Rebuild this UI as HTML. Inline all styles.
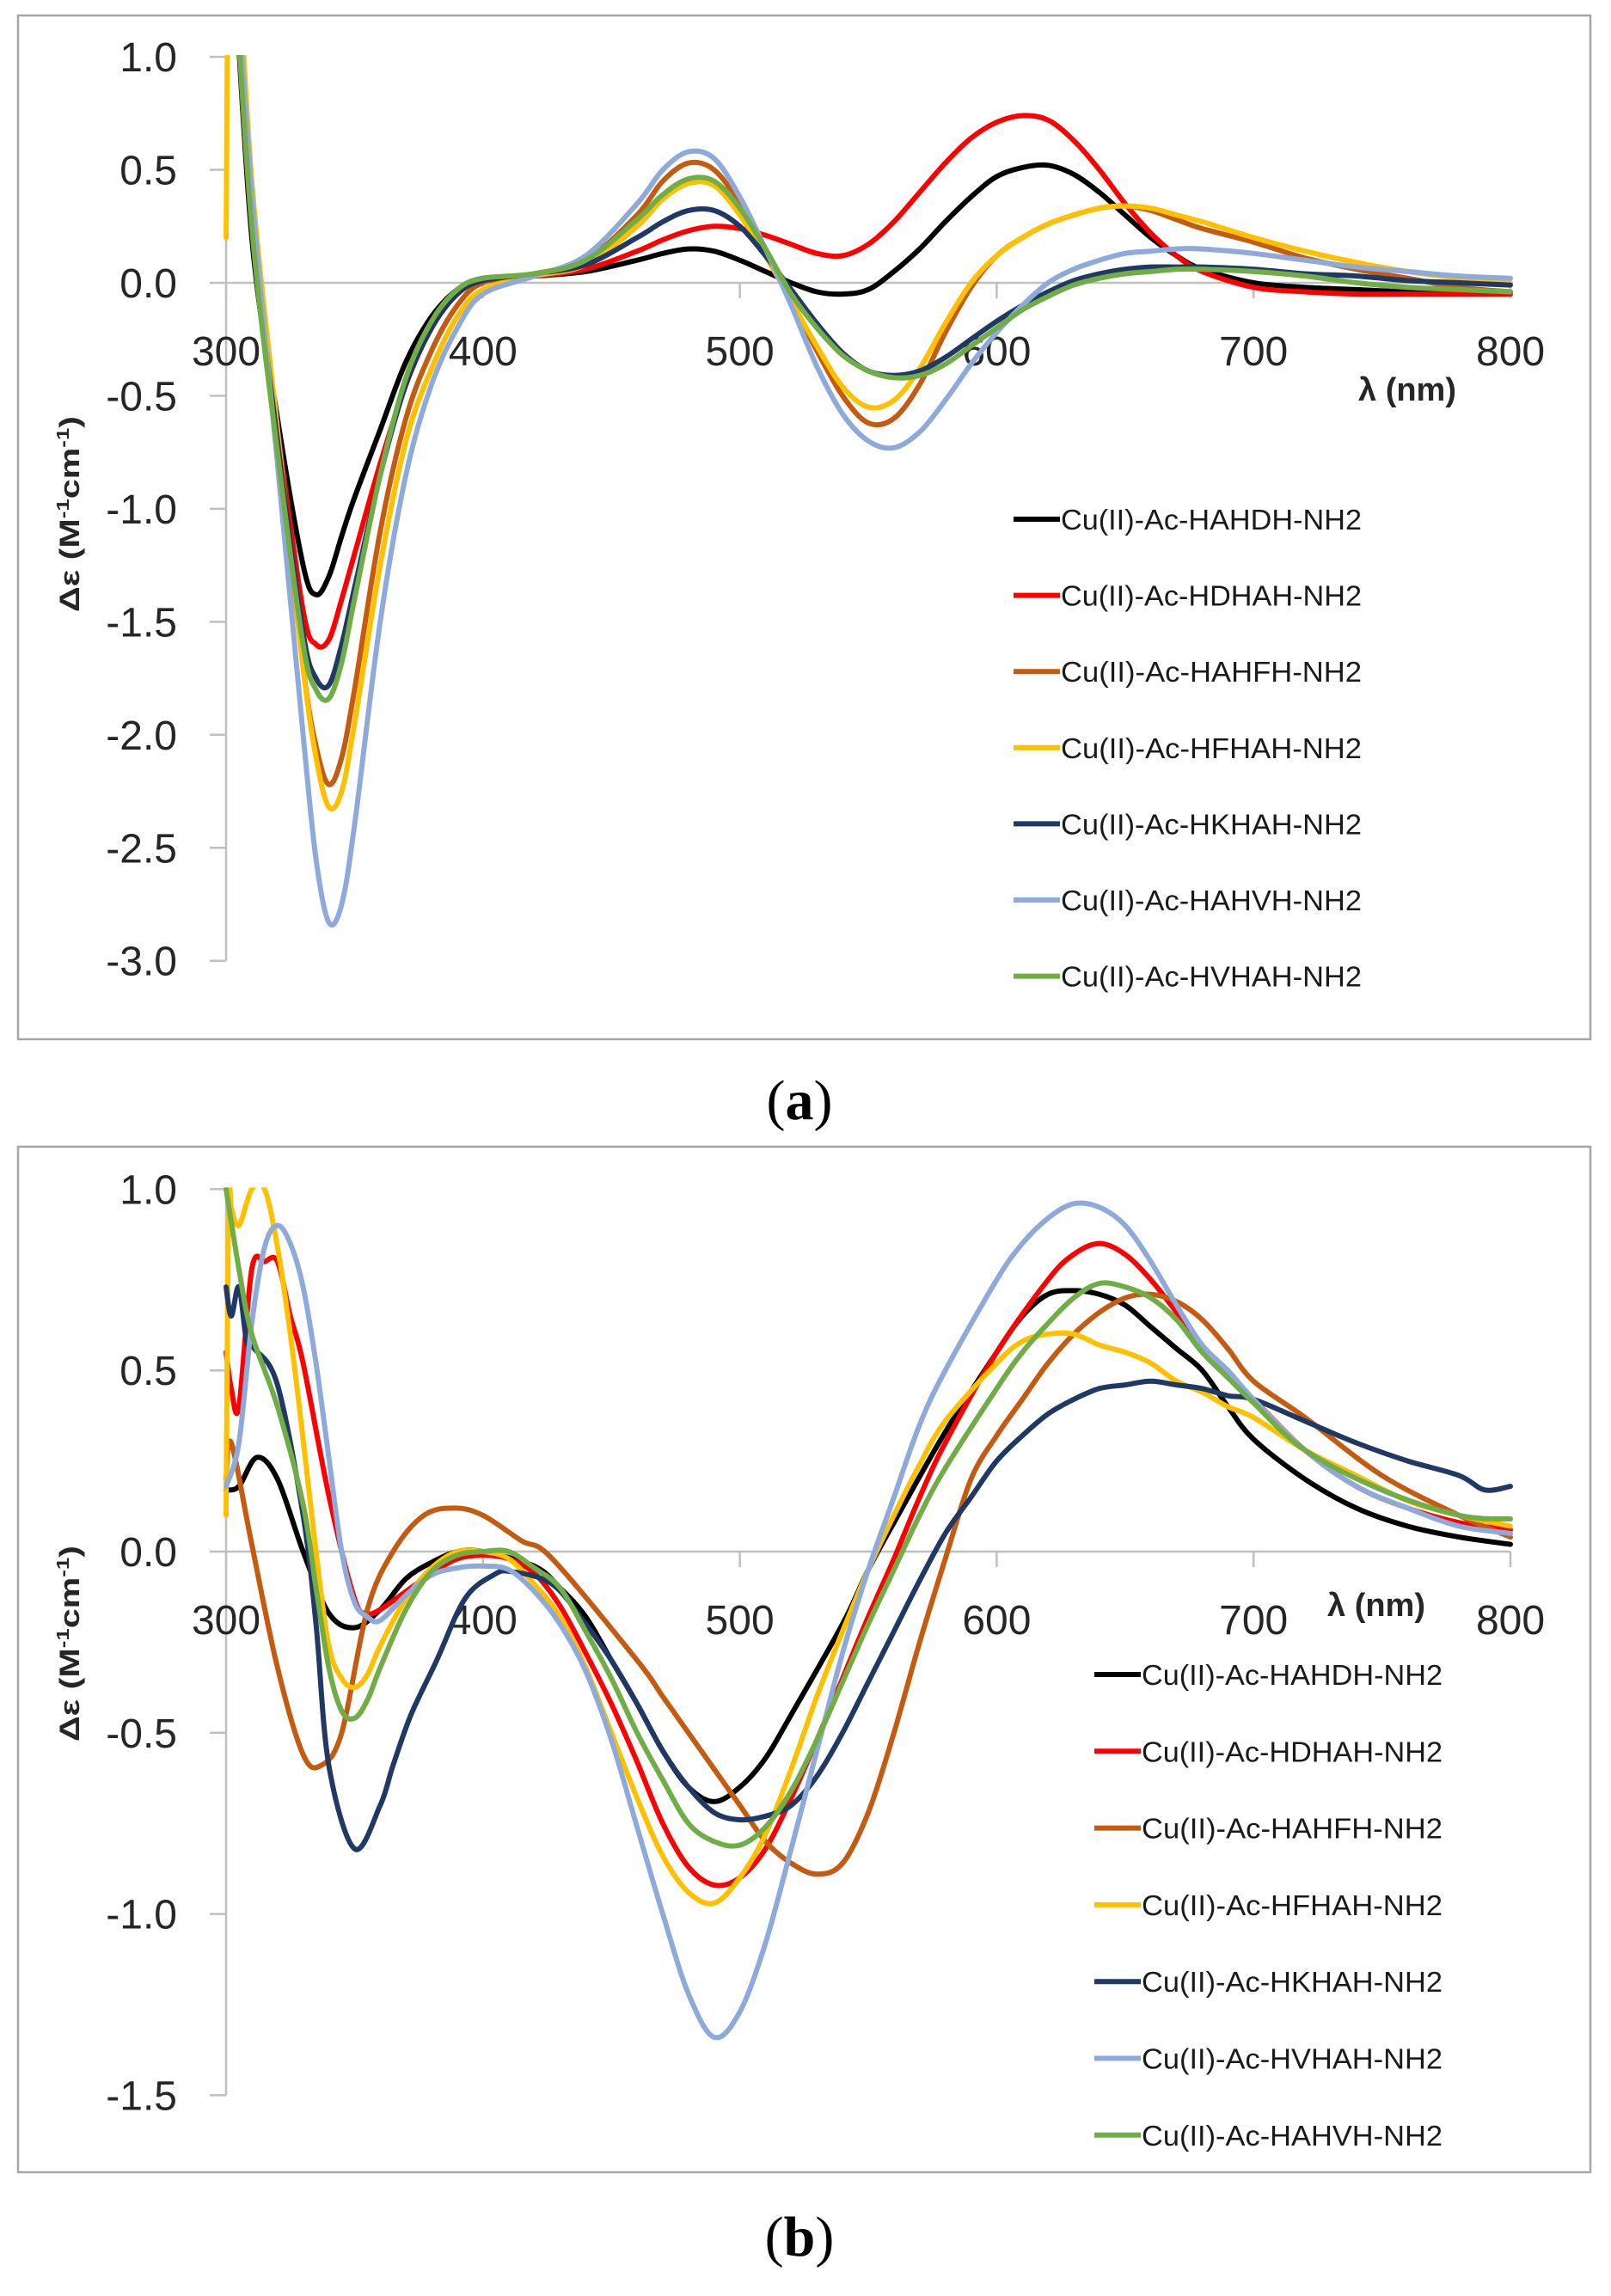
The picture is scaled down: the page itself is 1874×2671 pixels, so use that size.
<!DOCTYPE html>
<html><head><meta charset="utf-8"><style>
html,body{margin:0;padding:0;background:#fff;}
svg{display:block;}
</style></head><body>
<svg id="fig" width="1874" height="2671" viewBox="0 0 1874 2671" xmlns="http://www.w3.org/2000/svg" font-family="'Liberation Sans', sans-serif"></svg>
<script>
// ---------- Panel (a) data ----------
const a_black_x = [300,302,310,320,330,335,340,345,350,360,370,380,390,400,420,440,460,470,480,490,500,510,520,530,540,550,560,570,580,590,600,610,620,630,640,650,660,670,680,700,720,740,760,780,800];
const a_black_y = [1.8,1.6,0.2,-0.6,-1.25,-1.38,-1.3,-1.12,-0.95,-0.65,-0.35,-0.15,-0.03,0.02,0.03,0.05,0.1,0.13,0.15,0.14,0.1,0.05,0.0,-0.04,-0.05,-0.03,0.05,0.15,0.27,0.38,0.47,0.51,0.52,0.48,0.4,0.3,0.2,0.12,0.06,0.0,-0.02,-0.03,-0.04,-0.04,-0.04];
const a_red_x = a_black_x;
const a_red_y = [1.8,1.6,0.25,-0.65,-1.45,-1.6,-1.58,-1.4,-1.2,-0.8,-0.45,-0.2,-0.05,0.01,0.03,0.06,0.14,0.19,0.23,0.25,0.24,0.21,0.17,0.13,0.12,0.17,0.27,0.4,0.53,0.64,0.71,0.74,0.72,0.63,0.5,0.35,0.22,0.12,0.05,-0.02,-0.04,-0.05,-0.05,-0.05,-0.05];
const a_brown_x = a_black_x;
const a_brown_y = [1.8,1.6,0.3,-0.7,-1.7,-2.05,-2.22,-2.1,-1.8,-1.1,-0.6,-0.3,-0.1,0.0,0.04,0.1,0.3,0.45,0.53,0.5,0.35,0.15,-0.08,-0.3,-0.5,-0.62,-0.6,-0.45,-0.22,-0.02,0.12,0.2,0.26,0.3,0.33,0.34,0.32,0.28,0.24,0.18,0.11,0.06,0.02,-0.02,-0.04];
const a_yellow_x = a_black_x;
const a_yellow_y = [0.2,1.8,0.45,-0.65,-1.7,-2.1,-2.32,-2.25,-1.95,-1.25,-0.7,-0.38,-0.15,-0.03,0.03,0.08,0.25,0.37,0.44,0.43,0.3,0.12,-0.08,-0.28,-0.46,-0.55,-0.52,-0.38,-0.18,0.0,0.12,0.2,0.26,0.3,0.33,0.34,0.33,0.3,0.27,0.2,0.14,0.09,0.05,0.02,0.0];
const a_navy_x = a_black_x;
const a_navy_y = [1.8,1.6,0.3,-0.7,-1.55,-1.75,-1.78,-1.6,-1.35,-0.85,-0.45,-0.2,-0.05,0.01,0.04,0.08,0.2,0.27,0.32,0.32,0.25,0.12,-0.03,-0.18,-0.31,-0.39,-0.41,-0.39,-0.33,-0.25,-0.17,-0.1,-0.04,0.01,0.04,0.06,0.07,0.07,0.07,0.06,0.04,0.03,0.01,0.0,-0.01];
const a_lblue_x = a_black_x;
const a_lblue_y = [1.8,1.7,0.4,-0.8,-2.0,-2.55,-2.83,-2.75,-2.4,-1.5,-0.85,-0.45,-0.2,-0.05,0.03,0.12,0.35,0.5,0.58,0.55,0.38,0.15,-0.1,-0.37,-0.58,-0.7,-0.73,-0.66,-0.52,-0.36,-0.22,-0.1,0.0,0.06,0.1,0.13,0.14,0.15,0.15,0.13,0.1,0.07,0.05,0.03,0.02];
const a_green_x = a_black_x;
const a_green_y = [1.8,1.6,0.25,-0.75,-1.6,-1.8,-1.84,-1.68,-1.4,-0.85,-0.42,-0.17,-0.03,0.02,0.04,0.1,0.28,0.39,0.46,0.45,0.33,0.15,-0.05,-0.2,-0.32,-0.39,-0.42,-0.41,-0.36,-0.28,-0.2,-0.12,-0.06,-0.01,0.02,0.04,0.05,0.06,0.06,0.05,0.03,0.0,-0.02,-0.03,-0.04];
const a_labels = ["Cu(II)-Ac-HAHDH-NH2","Cu(II)-Ac-HDHAH-NH2","Cu(II)-Ac-HAHFH-NH2","Cu(II)-Ac-HFHAH-NH2","Cu(II)-Ac-HKHAH-NH2","Cu(II)-Ac-HAHVH-NH2","Cu(II)-Ac-HVHAH-NH2"];
const a_yticks = [1.0,0.5,0.0,-0.5,-1.0,-1.5,-2.0,-2.5,-3.0];
const xticks = [300,400,500,600,700,800];

// ---------- Panel (b) data ----------
const b_black_x = [300,305,312,320,330,340,350,360,370,380,390,400,420,430,440,450,460,470,480,490,500,510,520,540,550,560,580,600,610,620,630,640,650,660,670,680,690,700,720,740,760,780,800];
const b_black_y = [0.17,0.18,0.26,0.2,0.0,-0.17,-0.21,-0.16,-0.075,-0.03,0.0,0.0,-0.04,-0.1,-0.18,-0.3,-0.42,-0.55,-0.65,-0.69,-0.65,-0.57,-0.45,-0.2,-0.05,0.08,0.33,0.55,0.65,0.71,0.72,0.71,0.68,0.62,0.56,0.5,0.4,0.31,0.2,0.12,0.07,0.04,0.02];
const b_red_x = [300,302,305,310,315,320,325,330,340,350,355,360,370,380,390,400,410,420,430,440,450,460,470,480,490,500,510,520,530,540,550,560,570,580,600,620,630,640,650,660,670,680,690,700,720,740,760,780,800];
const b_red_y = [0.55,0.45,0.4,0.78,0.8,0.8,0.65,0.52,0.155,-0.13,-0.17,-0.16,-0.11,-0.06,-0.02,-0.01,-0.02,-0.06,-0.15,-0.28,-0.42,-0.58,-0.75,-0.87,-0.92,-0.9,-0.82,-0.68,-0.52,-0.35,-0.18,-0.02,0.15,0.3,0.55,0.75,0.82,0.85,0.82,0.75,0.66,0.56,0.48,0.42,0.28,0.18,0.12,0.08,0.06];
const b_brown_x = [300,302,310,320,330,337,345,355,365,377,389,400,415,427,460,470,480,490,500,510,520,530,540,550,560,570,580,590,600,610,620,630,640,650,660,670,680,690,700,720,750,780,800];
const b_brown_y = [0.2,0.3,0.02,-0.32,-0.56,-0.59,-0.5,-0.16,0.0,0.1,0.12,0.1,0.03,-0.02,-0.3,-0.4,-0.5,-0.6,-0.7,-0.8,-0.86,-0.89,-0.86,-0.72,-0.5,-0.25,-0.02,0.2,0.32,0.42,0.52,0.6,0.66,0.7,0.71,0.69,0.64,0.56,0.47,0.37,0.21,0.1,0.04];
const b_yellow_x = [300,301,302,305,310,315,320,325,330,335,340,345,350,355,360,370,380,390,400,410,420,430,440,450,460,470,480,490,500,510,520,530,540,550,560,570,580,600,610,620,630,640,650,660,670,680,690,700,720,740,760,780,800];
const b_yellow_y = [0.1,1.0,0.95,0.9,1.0,1.0,0.84,0.6,0.31,0.0,-0.26,-0.35,-0.375,-0.34,-0.26,-0.13,-0.045,0.0,0.0,-0.02,-0.09,-0.18,-0.32,-0.5,-0.68,-0.84,-0.94,-0.97,-0.9,-0.78,-0.6,-0.4,-0.22,-0.05,0.1,0.24,0.36,0.52,0.58,0.6,0.6,0.57,0.55,0.52,0.47,0.44,0.4,0.37,0.28,0.21,0.14,0.1,0.07];
const b_navy_x = [300,302,305,308,311,320,330,335,340,350,360,365,372,382,393,404,411,427,440,450,460,470,480,490,500,510,520,530,540,550,560,570,580,590,600,610,620,630,640,650,660,670,680,690,700,720,740,760,780,790,800];
const b_navy_y = [0.73,0.65,0.73,0.58,0.56,0.46,0.1,-0.2,-0.59,-0.82,-0.7,-0.59,-0.45,-0.3,-0.13,-0.065,-0.055,-0.09,-0.2,-0.3,-0.42,-0.55,-0.65,-0.72,-0.74,-0.73,-0.7,-0.62,-0.5,-0.36,-0.22,-0.08,0.05,0.15,0.25,0.32,0.38,0.42,0.45,0.46,0.47,0.46,0.45,0.43,0.42,0.36,0.3,0.25,0.21,0.17,0.18];
const b_lblue_x = [300,305,310,315,320,325,330,335,340,345,350,355,360,370,380,390,400,410,420,430,440,450,460,470,480,490,500,510,520,530,540,550,560,570,580,600,610,620,630,640,650,660,670,680,690,700,720,740,760,780,800];
const b_lblue_y = [0.18,0.3,0.63,0.84,0.9,0.85,0.73,0.52,0.26,0.0,-0.14,-0.18,-0.19,-0.12,-0.065,-0.045,-0.04,-0.05,-0.11,-0.2,-0.33,-0.52,-0.76,-1.0,-1.22,-1.34,-1.27,-1.08,-0.82,-0.55,-0.28,-0.05,0.15,0.35,0.5,0.75,0.85,0.92,0.96,0.95,0.9,0.8,0.68,0.57,0.5,0.42,0.28,0.18,0.12,0.07,0.05];
const b_green_x = [300,305,310,320,330,335,340,345,350,355,360,370,380,390,400,410,420,430,440,450,460,470,480,490,500,510,520,530,540,550,560,570,580,600,610,620,630,640,650,660,670,680,690,700,720,750,780,800];
const b_green_y = [1.0,0.78,0.6,0.4,0.13,-0.1,-0.32,-0.44,-0.46,-0.41,-0.32,-0.16,-0.055,-0.01,0.0,0.0,-0.045,-0.1,-0.22,-0.35,-0.5,-0.63,-0.75,-0.8,-0.81,-0.76,-0.66,-0.52,-0.36,-0.2,-0.05,0.1,0.23,0.45,0.55,0.63,0.7,0.74,0.73,0.7,0.64,0.55,0.48,0.41,0.28,0.17,0.1,0.09];
const b_labels = ["Cu(II)-Ac-HAHDH-NH2","Cu(II)-Ac-HDHAH-NH2","Cu(II)-Ac-HAHFH-NH2","Cu(II)-Ac-HFHAH-NH2","Cu(II)-Ac-HKHAH-NH2","Cu(II)-Ac-HVHAH-NH2","Cu(II)-Ac-HAHVH-NH2"];
const b_yticks = [1.0,0.5,0.0,-0.5,-1.0,-1.5];

const colors = ["#000000","#ff0000","#c55a11","#ffc000","#203864","#8eaadb","#70ad47"];
const NS = "http://www.w3.org/2000/svg";
const svg = document.getElementById('fig');

function mk(tag, attrs, parent){
  const e = document.createElementNS(NS, tag);
  for (const k in attrs) e.setAttribute(k, attrs[k]);
  (parent||svg).appendChild(e);
  return e;
}
function smoothPath(pts){
  let d = "M"+pts[0][0].toFixed(1)+","+pts[0][1].toFixed(1);
  for (let i=0;i<pts.length-1;i++){
    const p0=pts[Math.max(0,i-1)], p1=pts[i], p2=pts[i+1], p3=pts[Math.min(pts.length-1,i+2)];
    const c1x=p1[0]+(p2[0]-p0[0])/6, c1y=p1[1]+(p2[1]-p0[1])/6;
    const c2x=p2[0]-(p3[0]-p1[0])/6, c2y=p2[1]-(p3[1]-p1[1])/6;
    d += " C"+c1x.toFixed(1)+","+c1y.toFixed(1)+" "+c2x.toFixed(1)+","+c2y.toFixed(1)+" "+p2[0].toFixed(1)+","+p2[1].toFixed(1);
  }
  return d;
}

function panel(cfg){
  const g = mk('g', {});
  
  
  const X = nm => 263 + (nm-300)*(1757-263)/500;
  const Y = v => cfg.y0 - v*cfg.unit;
  const frame = mk('rect', {x:21,y:cfg.boxTop,width:1829,height:cfg.boxBottom-cfg.boxTop,fill:'#fff',stroke:'#a6a6a6','stroke-width':2.5}, g);
  
  
  const ymax = cfg.yticks[0], ymin = cfg.yticks[cfg.yticks.length-1];
  const yax = mk('line', {x1:263,y1:Y(ymax),x2:263,y2:Y(ymin),stroke:'#bfbfbf','stroke-width':2.5}, g);
  
  
  cfg.yticks.forEach(v=>{
    const t = mk('line',{x1:244,y1:Y(v),x2:263,y2:Y(v),stroke:'#bfbfbf','stroke-width':2.5},g);
    
    
    const lab = mk('text',{x:206,y:Y(v)+17,'text-anchor':'end','font-size':48,fill:'#262626'},g);
    
    
    lab.textContent = v.toFixed(1);
  });
  const xax = mk('line',{x1:263,y1:Y(0),x2:1757,y2:Y(0),stroke:'#bfbfbf','stroke-width':2.5},g);
  
  
  xticks.forEach(nm=>{
    const t = mk('line',{x1:X(nm),y1:Y(0),x2:X(nm),y2:Y(0)+18,stroke:'#bfbfbf','stroke-width':2.5},g);
    
    
    const lab = mk('text',{x:X(nm),y:Y(0)+96,'text-anchor':'middle','font-size':48,fill:'#262626'},g);
    
    
    lab.textContent = nm;
  });
  const xt = mk('text',{x:cfg.xtX,y:cfg.xtY,'text-anchor':'middle','font-size':38,'font-weight':'bold',fill:'#262626'},g);
  
  
  xt.textContent = 'λ (nm)';
  const yt = mk('text',{x:0,y:0,'text-anchor':'middle','font-size':32,'font-weight':'bold',fill:'#262626',transform:'translate('+(cfg.ytX)+','+cfg.ytY+') rotate(-90)',textLength:228,lengthAdjust:'spacingAndGlyphs'},g);
  
  
  yt.innerHTML = 'Δε (M<tspan font-size="20" dy="-12">-1</tspan><tspan dy="12">cm</tspan><tspan font-size="20" dy="-12">-1</tspan><tspan dy="12">)</tspan>';
  const cp = mk('clipPath',{id:cfg.clipId},g);
  mk('rect',{x:255,y:Y(ymax)-2,width:1510,height:Y(ymin)-Y(ymax)+60},cp);
  const sg = mk('g',{'clip-path':'url(#'+cfg.clipId+')'},g);
  
  
  cfg.series.forEach((s,i)=>{
    const pts = s.x.map((nm,k)=>[X(nm),Y(s.y[k])]);
    const p = mk('path',{d:smoothPath(pts),fill:'none',stroke:colors[i],'stroke-width':6,'stroke-linejoin':'round','stroke-linecap':'round'},sg);
    
    
  });
  cfg.labels.forEach((lab,i)=>{
    const ly = cfg.legTop + i*cfg.legStep;
    const lg = mk('g',{},g);
    
    
    mk('line',{x1:cfg.legX,y1:ly,x2:cfg.legX+54,y2:ly,stroke:colors[i],'stroke-width':6},lg);
    const t = mk('text',{x:cfg.legX+55,y:ly+12,'font-size':33,fill:'#1a1a1a',textLength:350,lengthAdjust:'spacingAndGlyphs'},lg);
    t.textContent = lab;
  });
}

panel({name:'panel-a-chart', y0:329, unit:262.9, boxTop:18, boxBottom:1209, yticks:a_yticks,
  xtX:1637, xtY:466, ytX:92, ytY:598, clipId:'clipA',
  legX:1179, legTop:604, legStep:88.6, labels:a_labels,
  series:[{id:'hahdh',x:a_black_x,y:a_black_y},{id:'hdhah',x:a_red_x,y:a_red_y},{id:'hahfh',x:a_brown_x,y:a_brown_y},{id:'hfhah',x:a_yellow_x,y:a_yellow_y},{id:'hkhah',x:a_navy_x,y:a_navy_y},{id:'hahvh',x:a_lblue_x,y:a_lblue_y},{id:'hvhah',x:a_green_x,y:a_green_y}]});

panel({name:'panel-b-chart', y0:1805, unit:421.6, boxTop:1334, boxBottom:2527, yticks:b_yticks,
  xtX:1601, xtY:1880, ytX:92, ytY:1912, clipId:'clipB',
  legX:1273, legTop:1948, legStep:89.3, labels:b_labels,
  series:[{id:'hahdh',x:b_black_x,y:b_black_y},{id:'hdhah',x:b_red_x,y:b_red_y},{id:'hahfh',x:b_brown_x,y:b_brown_y},{id:'hfhah',x:b_yellow_x,y:b_yellow_y},{id:'hkhah',x:b_navy_x,y:b_navy_y},{id:'hvhah',x:b_lblue_x,y:b_lblue_y},{id:'hahvh',x:b_green_x,y:b_green_y}]});

[["(a)","a",1302,"panel-a-caption"],["(b)","b",2624,"panel-b-caption"]].forEach(c=>{
  const t = mk('text',{x:930,y:c[2],'text-anchor':'middle','font-size':66,'font-family':"'Liberation Serif', serif",fill:'#000'});
  
  
  t.innerHTML = '(<tspan font-weight="bold">'+c[1]+'</tspan>)';
});
</script>
</body></html>
